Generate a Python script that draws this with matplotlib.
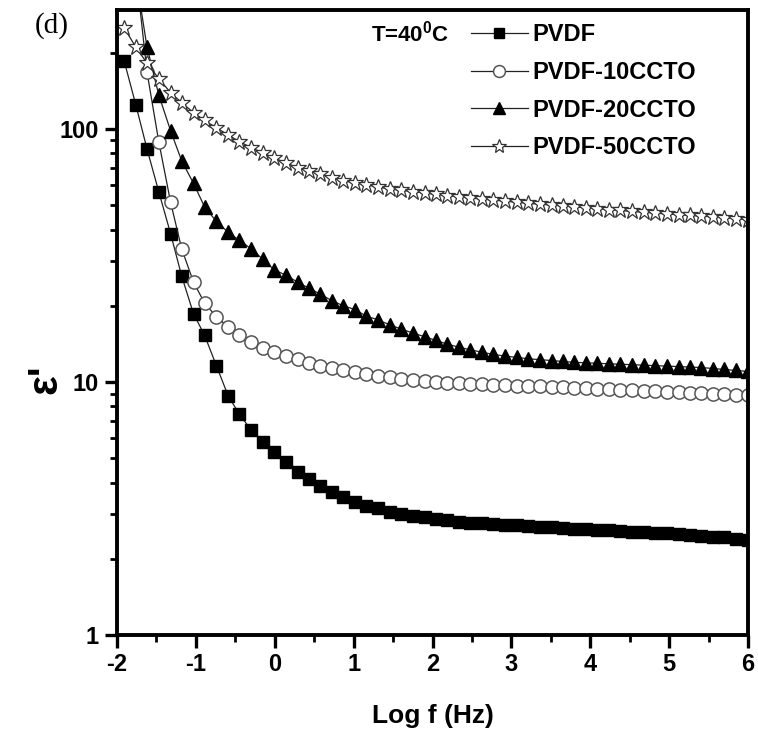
import numpy as np
import matplotlib
matplotlib.use("Agg")
import matplotlib.pyplot as plt
from matplotlib.ticker import MultipleLocator, LogLocator, NullFormatter, FixedLocator

# log f (Hz) grid
log_f = [-1.91, -1.76, -1.62, -1.47, -1.32, -1.18, -1.03, -0.89, -0.74, -0.59,
         -0.45, -0.30, -0.15, -0.01, 0.14, 0.29, 0.43, 0.58, 0.73, 0.87,
         1.02, 1.16, 1.31, 1.46, 1.60, 1.75, 1.90, 2.04, 2.19, 2.34,
         2.48, 2.63, 2.77, 2.92, 3.07, 3.21, 3.36, 3.51, 3.65, 3.80,
         3.95, 4.09, 4.24, 4.38, 4.53, 4.68, 4.82, 4.97, 5.12, 5.26,
         5.41, 5.56, 5.70, 5.85, 6.00]

eps_pvdf = [186, 124, 83.4, 56.4, 38.5, 26.2, 18.6, 15.3, 11.6, 8.80,
            7.47, 6.46, 5.79, 5.29, 4.83, 4.41, 4.14, 3.88, 3.67, 3.51,
            3.35, 3.23, 3.18, 3.06, 3.01, 2.95, 2.93, 2.87, 2.85, 2.80,
            2.78, 2.76, 2.74, 2.72, 2.71, 2.69, 2.68, 2.66, 2.65, 2.63,
            2.62, 2.60, 2.59, 2.58, 2.56, 2.55, 2.54, 2.52, 2.51, 2.49,
            2.47, 2.45, 2.43, 2.40, 2.37]

eps_10ccto = [1000, 420, 168, 88.9, 51.2, 33.6, 24.8, 20.5, 18.1, 16.5,
              15.3, 14.4, 13.6, 13.1, 12.7, 12.3, 11.9, 11.6, 11.4, 11.15,
              10.95, 10.75, 10.56, 10.47, 10.31, 10.18, 10.09, 10.03, 9.94, 9.88,
              9.84, 9.80, 9.76, 9.72, 9.68, 9.64, 9.60, 9.56, 9.52, 9.48,
              9.44, 9.40, 9.36, 9.32, 9.28, 9.24, 9.20, 9.16, 9.12, 9.08,
              9.04, 9.00, 8.96, 8.92, 8.88]

eps_20ccto = [750, 400, 211, 136, 98.2, 74.8, 60.9, 49.2, 43.1, 39.0,
              36.3, 33.6, 30.5, 27.8, 26.4, 24.8, 23.5, 22.2, 20.9, 20.0,
              19.3, 18.2, 17.6, 16.8, 16.2, 15.6, 15.1, 14.6, 14.1, 13.7,
              13.4, 13.1, 12.85, 12.65, 12.5, 12.35, 12.25, 12.15, 12.05, 11.95,
              11.9, 11.85, 11.8, 11.75, 11.7, 11.65, 11.6, 11.55, 11.5, 11.45,
              11.4, 11.3, 11.2, 11.1, 11.0]

eps_50ccto = [251, 210, 182, 158, 139, 127, 116, 108, 101, 94.7,
              89.1, 84.4, 80.4, 76.8, 73.4, 70.3, 68.2, 66.2, 64.2, 62.3,
              61.2, 60.1, 58.9, 57.9, 57.2, 56.5, 55.8, 55.1, 54.5, 53.9,
              53.3, 52.8, 52.3, 51.8, 51.3, 50.8, 50.4, 50.0, 49.6, 49.2,
              48.8, 48.4, 48.0, 47.6, 47.2, 46.8, 46.5, 46.1, 45.8, 45.5,
              45.2, 44.9, 44.6, 44.2, 43.8]

labels = ['PVDF', 'PVDF-10CCTO', 'PVDF-20CCTO', 'PVDF-50CCTO']

plt.rcParams['font.family'] = ['Liberation Sans', 'DejaVu Sans']
plt.rcParams['font.weight'] = 'bold'
plt.rcParams['axes.unicode_minus'] = False
plt.rcParams['mathtext.fontset'] = 'custom'
plt.rcParams['mathtext.rm'] = 'Liberation Sans:bold'
plt.rcParams['mathtext.bf'] = 'Liberation Sans:bold'

fig = plt.figure(figsize=(7.58, 7.35), dpi=100)
ax = fig.add_axes([117/758, 100/735, 631/758, 625/735])

ax.plot(log_f, eps_pvdf, '-', color='#222222', lw=0.9, marker='s', ms=8,
        mfc='black', mec='black', label=labels[0])
ax.plot(log_f, eps_10ccto, '-', color='#222222', lw=0.9, marker='o', ms=9.5,
        mfc='white', mec='#555555', mew=1.1, label=labels[1])
ax.plot(log_f, eps_20ccto, '-', color='#222222', lw=0.9, marker='^', ms=10,
        mfc='black', mec='black', label=labels[2])
ax.plot(log_f, eps_50ccto, '-', color='#222222', lw=0.9, marker='*', ms=12,
        mfc='white', mec='#333333', mew=0.9, label=labels[3])

ax.set_yscale('log')
ax.set_xlim(-2, 6)
ax.set_ylim(1, 295)

ax.xaxis.set_major_locator(MultipleLocator(1))
ax.xaxis.set_minor_locator(MultipleLocator(0.5))
ax.yaxis.set_major_locator(FixedLocator([1, 10, 100]))
ax.yaxis.set_minor_locator(LogLocator(base=10, subs=np.arange(2, 10)))
ax.yaxis.set_minor_formatter(NullFormatter())
ax.set_yticklabels(['1', '10', '100'])

for s in ax.spines.values():
    s.set_linewidth(2.8)
ax.tick_params(which='major', direction='out', length=9, width=2.4,
               labelsize=17, pad=4)
ax.tick_params(which='minor', direction='out', length=5, width=2.0)

ax.set_xlabel('Log f (Hz)', fontsize=19, fontweight='bold', labelpad=20)
ax.set_ylabel("\u03b5'", fontsize=30, fontweight='bold')
ax.yaxis.set_label_coords(-0.082, 0.41)

leg = ax.legend(loc='upper left', bbox_to_anchor=(0.535, 1.005), frameon=False,
                fontsize=17, handlelength=2.4, handletextpad=0.2,
                labelspacing=0.62, borderaxespad=0.3, markerscale=0.9)
for t in leg.get_texts():
    t.set_fontweight('bold')

ax.text(0.402, 0.963, 'T=40$^0$C', transform=ax.transAxes, fontsize=16,
        fontweight='bold', va='center', ha='left')

fig.text(35/758, 1 - 26/735, '(d)', fontsize=21, family='Liberation Serif',
         fontweight='normal', va='center', ha='left')

fig.savefig('out.png', dpi=100)
